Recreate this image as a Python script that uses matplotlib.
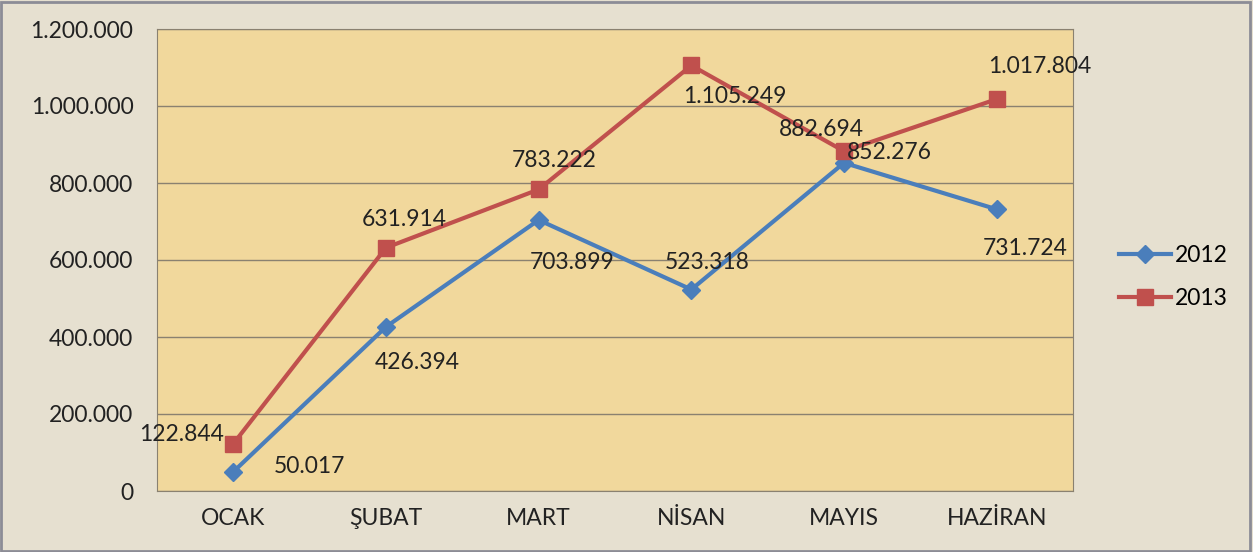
import matplotlib
matplotlib.use("Agg")
import matplotlib.pyplot as plt
from matplotlib.ticker import FuncFormatter, MultipleLocator
from matplotlib.patches import Rectangle

months = ["OCAK", "ŞUBAT", "MART", "NİSAN", "MAYIS", "HAZİRAN"]
values_2012 = [50017, 426394, 703899, 523318, 852276, 731724]
values_2013 = [122844, 631914, 783222, 1105249, 882694, 1017804]
labels_2012 = ["50.017", "426.394", "703.899", "523.318", "852.276", "731.724"]
labels_2013 = ["122.844", "631.914", "783.222", "1.105.249", "882.694", "1.017.804"]

# label offsets in pixels (dx, dy)
off_2012 = [(76, 5), (31, -36), (33, -43), (16, 27), (45, 10), (29, -39)]
off_2013 = [(-52, 9), (18, 28), (16, 29), (43, -31), (-23, 22), (43, 33)]

plt.rcParams['font.family'] = ['Lato', 'DejaVu Sans']
FS = 16.5

fig = plt.figure(figsize=(12.53, 5.52), dpi=100, facecolor="#e6e0d0")
ax = fig.add_axes([157/1253, 61/552, (1073-157)/1253, (491-29)/552])
ax.set_facecolor("#f1d89c")

x = [i + 0.5 for i in range(len(months))]
c12 = "#4a7ebb"
c13 = "#c0504d"
ax.plot(x, values_2012, color=c12, lw=3, marker="D", ms=9, label="2012", zorder=3)
ax.plot(x, values_2013, color=c13, lw=3, marker="s", ms=11, label="2013", zorder=3)

for xi, v, lab, (dx, dy) in zip(x, values_2012, labels_2012, off_2012):
    ax.annotate(lab, (xi, v), xytext=(dx, dy), textcoords="offset pixels",
                ha="center", va="center", fontsize=FS, color="#222222", zorder=4)
for xi, v, lab, (dx, dy) in zip(x, values_2013, labels_2013, off_2013):
    ax.annotate(lab, (xi, v), xytext=(dx, dy), textcoords="offset pixels",
                ha="center", va="center", fontsize=FS, color="#222222", zorder=4)

ax.set_xlim(0, 6)
ax.set_ylim(0, 1200000)
ax.yaxis.set_major_locator(MultipleLocator(200000))
ax.yaxis.set_major_formatter(FuncFormatter(lambda v, p: f"{int(v):,}".replace(",", ".")))
ax.set_xticks(x)
ax.set_xticklabels(months)
ax.tick_params(axis="both", length=0, labelsize=FS, colors="#222222")
ax.tick_params(axis="y", pad=17)
ax.tick_params(axis="x", pad=12)
ax.grid(axis="y", color="#8a8170", lw=1)
ax.set_axisbelow(True)
for s in ax.spines.values():
    s.set_color("#8a8170")
    s.set_linewidth(0.8)

leg = fig.legend(loc="center left", bbox_to_anchor=(1098/1253, 1 - 277/552), frameon=False,
                 fontsize=FS, handlelength=2.3, labelspacing=1.0, handletextpad=0.15)

fig.patches.append(Rectangle((0.001, 0.002), 0.997, 0.995, transform=fig.transFigure,
                             fill=False, edgecolor="#8c8c96", lw=2))

fig.savefig("out.png", dpi=100, facecolor=fig.get_facecolor())
